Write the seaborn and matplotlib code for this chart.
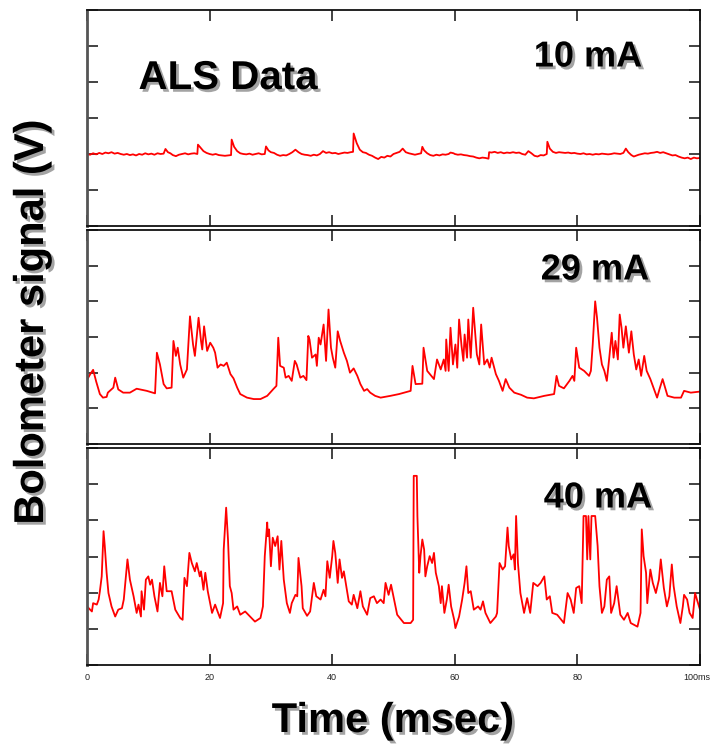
import matplotlib
matplotlib.use("Agg")
import matplotlib.pyplot as plt
import matplotlib.patheffects as pe
import matplotlib.transforms as mtrans
import seaborn as sns
import pandas as pd

# ---------------- data (time in msec, bolometer signal in V) ----------------
t_10 = [0, 0.5, 1, 1.5, 2, 2.5, 3, 3.5, 4, 4.5, 5, 5.5, 6, 6.5, 7, 7.5, 8, 8.5, 9, 9.5,
        10, 10.5, 11, 11.5, 12, 12.5, 12.8, 13.2, 13.6, 14, 14.5, 15, 15.5, 16, 16.5, 17,
        17.5, 18, 18.1, 18.5, 19, 19.5, 20, 20.5, 21, 21.5, 22, 22.5, 23, 23.5, 23.6, 24,
        24.5, 25, 25.5, 26, 26.5, 27, 27.5, 28, 28.5, 29, 29.2, 29.6, 30, 30.5, 31, 31.5,
        32, 32.5, 33, 33.5, 34, 34.5, 35, 35.5, 36, 36.5, 37, 37.5, 38, 38.5, 39, 39.5,
        40, 40.5, 41, 41.5, 42, 42.5, 43, 43.4, 43.5, 44, 44.5, 45, 45.5, 46, 46.5, 47,
        47.5, 48, 48.5, 49, 49.5, 50, 50.5, 51, 51.5, 52, 52.5, 53, 53.5, 54, 54.5, 54.7,
        55, 55.5, 56, 56.5, 57, 57.5, 58, 58.5, 59, 59.3, 59.8, 60, 60.5, 61, 61.5, 62,
        62.5, 63, 63.5, 64, 64.5, 65, 65.5, 65.6, 66, 66.5, 67, 67.5, 68, 68.5, 69, 69.5,
        70, 70.5, 71, 71.5, 72, 72.5, 73, 73.5, 74, 74.5, 75, 75.1, 75.5, 76, 76.5, 77,
        77.5, 78, 78.5, 79, 79.5, 80, 80.5, 81, 81.5, 82, 82.5, 83, 83.5, 84, 84.5, 85,
        85.5, 86, 86.5, 87, 87.5, 87.9, 88.3, 88.8, 89.2, 89.7, 90, 90.5, 91, 91.5, 92,
        92.5, 93, 93.5, 94, 94.5, 95, 95.5, 96, 96.5, 97, 97.5, 98, 98.5, 99, 99.5, 100]
v_10 = [2.0, 1.98, 2.02, 1.99, 2.03, 2.0, 2.04, 2.02, 2.05, 2.01, 2.03, 2.0, 1.98, 2.0, 1.97,
        1.99, 1.96, 2.0, 1.98, 2.02, 1.99, 2.01, 1.98, 2.02, 2.0, 2.01, 2.14, 2.05, 2.02,
        1.97, 1.94, 1.98, 2.0, 2.02, 1.99, 2.01, 2.02, 2.0, 2.26, 2.18, 2.08, 2.03, 2.0,
        1.98, 2.0, 1.97, 1.96, 1.95, 1.96, 1.97, 2.4, 2.2, 2.08, 2.02, 2.0, 1.99, 2.01,
        1.98, 2.0, 2.02, 1.99, 2.0, 2.21, 2.1, 2.05, 2.03, 1.98, 1.95, 1.97, 1.96, 2.0,
        2.05, 2.12, 2.05, 2.0, 1.98, 1.97, 1.95, 1.98, 1.96, 2.0, 2.08, 2.03, 2.05, 2.02,
        2.03, 2.0, 2.02, 2.04, 2.03, 2.05, 2.06, 2.57, 2.3, 2.12, 2.05, 2.03, 1.98, 1.95,
        1.9, 1.86, 1.92, 1.9, 1.95, 1.93, 2.0, 2.03, 2.06, 2.15, 2.05, 2.02, 2.0, 1.98,
        2.0, 2.02, 2.2, 2.1, 2.02, 1.97, 1.95, 1.98, 1.96, 1.99, 1.98, 2.0, 2.04, 2.02,
        2.0, 1.98, 1.99, 1.97, 1.96, 1.94, 1.93, 1.9, 1.88, 1.9, 1.89, 1.87, 2.05, 2.04,
        2.06, 2.03, 2.05, 2.02, 2.04, 2.03, 2.05, 2.03, 2.04, 2.0, 1.98, 2.08, 2.02, 1.95,
        1.93, 1.97, 1.96, 2.0, 2.34, 2.15, 2.06, 2.03, 2.05, 2.04, 2.03, 2.04, 2.02, 2.03,
        2.01, 2.0, 2.02, 1.99, 2.0, 1.98, 2.0, 1.99, 2.01, 2.0, 1.99, 2.0, 2.02, 2.01, 2.0,
        2.03, 2.15, 2.05, 1.97, 1.93, 1.96, 1.98, 2.0, 2.02, 2.01, 2.03, 2.04, 2.06, 2.03,
        2.05, 2.02, 1.99, 1.96, 1.97, 1.93, 1.9, 1.88, 1.9, 1.86, 1.9, 1.88, 1.89]

t_29 = [0.0, 0.5, 1.0, 1.5, 2.1, 2.6, 3.2, 3.4, 4.3, 4.6, 5.1, 5.9, 7.0, 8.1, 9.75, 11.1,
        11.4, 11.9, 12.5, 13.0, 13.8, 14.1, 14.5, 14.8, 15.2, 15.7, 16.3, 16.8, 17.3, 17.6,
        18.2, 18.6, 18.8, 19.1, 19.6, 20.1, 20.6, 20.9, 21.3, 21.8, 22.3, 22.8, 23.4, 23.9,
        24.5, 25.0, 26.1, 27.2, 28.3, 29.4, 30.4, 30.9, 31.2, 31.5, 32.1, 32.4, 32.9, 33.4,
        33.9, 34.2, 34.8, 35.3, 35.8, 36.1, 36.3, 36.7, 37.3, 37.5, 37.8, 38.1, 38.6, 39.0,
        39.4, 39.8, 40.1, 40.5, 40.9, 41.3, 41.9, 42.4, 42.9, 43.5, 44.1, 44.6, 45.2, 45.7,
        46.2, 47.0, 47.9, 49.5, 50.9, 52.8, 53.1, 53.6, 54.7, 54.9, 55.5, 56.6, 57.1, 57.7,
        58.2, 58.5, 58.6, 59.0, 59.3, 59.7, 60.1, 60.4, 60.7, 61.1, 61.4, 61.6, 62.0, 62.2,
        62.6, 63.0, 63.6, 64.0, 64.3, 64.8, 65.3, 65.7, 66.0, 66.7, 67.2, 67.8, 68.3, 68.9,
        69.7, 70.8, 71.8, 72.9, 74.6, 76.2, 76.6, 77.0, 77.8, 78.7, 79.2, 79.5, 79.8, 80.3,
        81.1, 81.9, 82.2, 82.5, 82.9, 83.2, 83.6, 84.0, 84.4, 84.8, 85.2, 85.6, 85.9, 86.2,
        86.6, 86.9, 87.2, 87.5, 87.9, 88.4, 88.8, 89.2, 89.6, 90.0, 90.4, 90.9, 91.3, 91.9,
        92.4, 93.0, 93.4, 93.9, 94.3, 94.7, 95.8, 96.9, 97.4, 98.5, 100.0]
v_29 = [1.80, 1.95, 2.08, 1.75, 1.40, 1.30, 1.32, 1.44, 1.58, 1.86, 1.53, 1.44, 1.44, 1.55,
        1.49, 1.42, 2.56, 2.23, 1.68, 1.56, 1.58, 2.89, 2.47, 2.70, 2.23, 1.86, 2.09, 3.58,
        2.79, 2.47, 3.54, 2.89, 2.65, 3.30, 2.61, 2.84, 2.70, 2.56, 2.14, 2.23, 2.19, 2.28,
        1.96, 1.84, 1.58, 1.40, 1.30, 1.26, 1.26, 1.35, 1.54, 1.63, 2.98, 2.19, 2.14, 1.86,
        1.91, 1.77, 2.33, 2.23, 1.86, 1.91, 1.79, 3.03, 2.93, 2.42, 2.51, 2.19, 2.98, 2.79,
        3.35, 2.33, 3.77, 2.70, 2.42, 2.14, 3.16, 2.89, 2.56, 2.33, 2.00, 2.12, 1.91, 1.68,
        1.49, 1.54, 1.44, 1.35, 1.30, 1.35, 1.40, 1.49, 2.19, 1.68, 1.69, 2.70, 2.05, 1.82,
        2.37, 2.09, 2.37, 2.05, 2.93, 2.05, 3.26, 2.23, 2.79, 2.14, 3.49, 2.75, 2.33, 3.07,
        2.42, 3.49, 2.42, 3.82, 2.51, 2.23, 3.35, 2.23, 2.37, 2.14, 2.42, 1.96, 1.77, 1.49,
        1.82, 1.58, 1.44, 1.38, 1.30, 1.28, 1.35, 1.40, 1.91, 1.63, 1.56, 1.77, 1.91, 1.77,
        2.70, 2.14, 2.05, 1.91, 2.05, 2.79, 4.00, 3.54, 2.70, 2.23, 2.05, 1.77, 2.42, 3.12,
        2.42, 2.89, 2.37, 3.63, 3.26, 2.70, 3.30, 2.56, 3.16, 2.51, 2.09, 2.37, 1.91, 2.47,
        2.05, 1.82, 1.58, 1.30, 1.54, 1.82, 1.58, 1.35, 1.30, 1.30, 1.49, 1.44, 1.47]

t_40 = [0.0, 0.8, 1.0, 1.6, 1.9, 2.1, 2.4, 2.7, 2.9, 3.2, 3.5, 4.0, 4.6, 5.1, 5.7, 6.0, 6.2,
        6.6, 7.0, 7.6, 8.1, 8.4, 8.8, 8.9, 9.3, 9.6, 10.0, 10.3, 10.6, 11.0, 11.5, 11.9,
        12.3, 12.6, 13.0, 13.8, 14.4, 15.2, 15.6, 15.9, 16.3, 16.7, 17.1, 17.6, 17.9, 18.4,
        18.6, 19.0, 19.3, 19.7, 20.4, 20.9, 21.3, 21.7, 22.2, 22.3, 22.7, 23.0, 23.3, 23.6,
        23.9, 24.5, 25.0, 25.8, 26.6, 27.4, 28.3, 28.7, 29.0, 29.4, 29.5, 29.7, 30.0, 30.3,
        30.7, 31.1, 31.4, 31.7, 32.1, 32.6, 33.1, 33.4, 34.0, 34.3, 34.5, 35.0, 35.2, 35.9,
        36.4, 37.0, 37.4, 38.1, 38.6, 38.9, 39.2, 39.6, 40.0, 40.2, 40.5, 40.9, 41.2, 41.6,
        41.9, 42.3, 42.7, 43.2, 43.5, 44.1, 44.6, 45.0, 45.7, 46.2, 46.8, 47.3, 47.9, 48.4,
        48.7, 49.2, 49.6, 50.1, 50.6, 51.7, 52.8, 53.2, 53.3, 53.8, 53.9, 54.2, 54.4, 54.7,
        55.0, 55.2, 55.5, 55.9, 56.3, 56.6, 56.9, 57.4, 57.7, 57.9, 58.3, 58.7, 59.0, 59.4,
        59.9, 60.1, 60.7, 61.2, 61.6, 61.9, 62.2, 62.6, 63.1, 63.8, 64.2, 64.6, 65.0, 65.8,
        66.7, 66.9, 67.3, 67.8, 68.2, 68.6, 68.8, 69.2, 69.6, 69.8, 70.0, 70.3, 70.7, 71.3,
        71.8, 72.3, 72.8, 73.5, 74.0, 74.6, 75.0, 75.5, 75.9, 76.7, 77.8, 78.4, 78.9, 79.4,
        79.8, 80.3, 80.7, 81.0, 81.4, 81.6, 81.8, 82.1, 82.3, 82.9, 83.3, 83.6, 84.0, 84.4,
        84.8, 85.2, 85.5, 86.0, 86.4, 87.0, 87.6, 88.2, 88.7, 89.8, 90.3, 90.5, 90.8, 91.2,
        91.4, 91.9, 92.3, 92.8, 93.3, 93.6, 94.1, 94.6, 95.0, 95.4, 95.7, 96.2, 96.8, 97.2,
        97.4, 97.9, 98.3, 98.8, 99.2, 99.5, 100.0]
v_40 = [1.62, 1.48, 1.71, 1.67, 1.81, 2.04, 2.45, 3.70, 3.29, 2.55, 1.99, 1.62, 1.34, 1.53,
        1.57, 1.81, 2.18, 2.92, 2.36, 1.90, 1.44, 1.67, 1.34, 2.04, 1.53, 2.36, 2.45, 2.22,
        2.36, 1.90, 1.48, 2.27, 1.90, 2.73, 2.04, 2.04, 1.53, 1.30, 1.25, 2.41, 2.18, 3.10,
        2.82, 2.59, 2.82, 2.45, 2.59, 2.08, 2.55, 2.04, 1.44, 1.67, 1.48, 1.30, 1.71, 3.19,
        4.35, 3.47, 2.18, 1.99, 1.53, 1.62, 1.39, 1.48, 1.34, 1.20, 1.30, 1.62, 3.01, 3.94,
        3.56, 3.75, 2.73, 3.52, 3.29, 3.56, 2.64, 3.43, 2.36, 1.71, 1.44, 1.71, 1.94, 1.90,
        2.96, 2.18, 1.57, 1.36, 1.48, 2.27, 1.90, 1.81, 2.08, 1.90, 2.87, 2.41, 3.01, 3.43,
        3.10, 2.27, 2.92, 2.41, 2.59, 2.18, 1.76, 1.67, 1.94, 1.57, 2.04, 1.62, 1.39, 1.85,
        1.90, 1.71, 1.81, 1.71, 2.27, 1.94, 2.22, 1.81, 1.39, 1.16, 1.16, 1.25, 5.23, 5.23,
        4.12, 2.55, 3.01, 3.47, 3.19, 2.45, 2.73, 3.01, 2.82, 3.10, 2.55, 2.18, 1.71, 2.18,
        1.44, 1.81, 2.22, 1.62, 1.25, 1.02, 1.34, 1.81, 2.27, 2.73, 1.99, 2.04, 1.53, 1.62,
        1.53, 1.76, 1.44, 1.16, 1.34, 1.44, 2.82, 2.64, 2.73, 3.80, 3.29, 2.92, 3.06, 2.64,
        4.12, 2.82, 1.99, 1.44, 1.85, 1.44, 2.27, 2.18, 2.27, 2.45, 1.81, 1.90, 1.44, 1.39,
        1.16, 1.99, 1.81, 1.44, 2.13, 2.18, 1.71, 4.12, 4.12, 2.92, 4.12, 2.92, 4.12, 4.12,
        3.29, 2.18, 1.44, 1.62, 2.36, 2.45, 1.44, 1.71, 2.18, 1.39, 1.25, 1.44, 1.16, 1.06,
        1.44, 3.75, 3.01, 2.55, 1.71, 2.64, 2.27, 1.99, 2.36, 2.92, 2.13, 1.62, 1.90, 2.78,
        2.18, 1.62, 1.16, 1.62, 1.94, 1.81, 1.44, 1.30, 1.99, 1.81, 1.53]

panel_labels = ["10 mA", "29 mA", "40 mA"]
x_ticks = [0, 20, 40, 60, 80, 100]
x_tick_labels = ["0", "20", "40", "60", "80", "100ms"]
title_text = "ALS Data"
x_label = "Time (msec)"
y_label = "Bolometer signal (V)"

# ---------------- style ----------------
sns.set_style("ticks")
plt.rcParams["font.family"] = ["Liberation Sans", "DejaVu Sans"]

W, H = 711, 744
fig = plt.figure(figsize=(W / 100, H / 100), dpi=100)

left = 87 / W
width = (700 - 87) / W
panels_px = [(10, 226), (230, 444), (448, 665)]

shadow = [pe.SimplePatchShadow(offset=(2, -2), shadow_rgbFace="0.55", alpha=0.8), pe.Normal()]

series = [(t_10, v_10), (t_29, v_29), (t_40, v_40)]
label_pos = [(588, 57), (595, 270), (598, 498)]

for i, ((top, bot), (tt, vv)) in enumerate(zip(panels_px, series)):
    ax = fig.add_axes([left, 1 - bot / H, width, (bot - top) / H])
    df = pd.DataFrame({"t": tt, "v": vv})
    sns.lineplot(data=df, x="t", y="v", ax=ax, color="#ff0000", lw=1.3,
                 estimator=None, sort=False)
    ax.set_xlim(0, 100)
    ax.set_ylim(0, 6)
    ax.set_yticks(range(0, 7))
    ax.set_yticklabels([])
    ax.set_xticks(x_ticks)
    ax.set_xlabel("")
    ax.set_ylabel("")
    ax.tick_params(direction="in", length=8, width=1.2, color="#222222",
                   top=True, right=True, bottom=True, left=True)
    if i == 2:
        ax.set_xticklabels(x_tick_labels, fontsize=6.5, color="#222222")
        ax.tick_params(axis="x", pad=6)
        last = ax.get_xticklabels()[-1]
        last.set_transform(last.get_transform() +
                           mtrans.ScaledTranslation(-3 / 100, 0, fig.dpi_scale_trans))
    else:
        ax.set_xticklabels([])
    for side, sp in ax.spines.items():
        sp.set_visible(True)
        sp.set_color("#111111")
        sp.set_linewidth(1.3)
    ax.spines["left"].set_color("#555555")
    ax.spines["left"].set_linewidth(2.0)

    lx, ly = label_pos[i]
    fig.text(lx / W, 1 - ly / H, panel_labels[i], ha="center", va="center",
             fontsize=26, fontweight="bold", color="black", path_effects=shadow)

fig.text(228 / W, 1 - 78 / H, title_text, ha="center", va="center",
         fontsize=29, fontweight="bold", color="black", path_effects=shadow)

fig.text(393 / W, 1 - 721 / H, x_label, ha="center", va="center",
         fontsize=30, fontweight="bold", color="black", path_effects=shadow)
fig.text(32 / W, 1 - 322 / H, y_label, ha="center", va="center", rotation=90,
         fontsize=30, fontweight="bold", color="black", path_effects=shadow)

fig.savefig("out.png", dpi=100)
